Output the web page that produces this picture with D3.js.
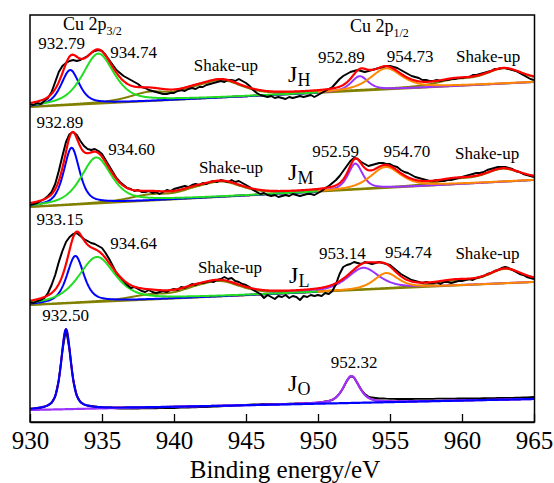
<!DOCTYPE html>
<html><head><meta charset="utf-8">
<script src="https://cdn.jsdelivr.net/npm/d3@7"></script>
<style>
body{margin:0;background:#fff}
svg{display:block}
text{font-family:"Liberation Serif","Times New Roman",Times,serif;fill:#000}
</style>
</head><body>
<svg id="c" width="554" height="483"></svg>
<script>
// ---------- DATA ----------
const xTicks = [930, 935, 940, 945, 950, 955, 960, 965];
const xTitle = "Binding energy/eV";
const eStart = 930, eStep = 0.25;   // experimental points every 0.25 eV from 930 eV

// experimental intensities (a.u., stacked as plotted), one row per eV
const blackH = [
 318,317,319,318, 321,324,330,340, 350,356,359,361, 362,361,362,364, 366,369,371,372,
 371,367,362,357, 352,349,346,344, 342,340,338,335, 334,332,331,330, 329,328,328,329,
 329,331,332,331, 333,334,333,335, 335,337,338,339, 340,341,340,342, 342,341,343,341,
 339,336,332,329, 327,326,325,326, 324,325,324,323, 325,324,325,326, 325,326,327,325,
 327,329,331,333, 335,339,343,346, 348,350,351,352, 351,350,351,352, 353,354,355,356,
 356,355,354,352, 350,348,346,345, 344,342,342,341, 341,342,341,342, 342,343,343,344,
 344,345,345,347, 347,348,349,350, 351,353,353,354, 354,353,352,351, 349,347,345,343,
 342];
const blackM = [
 217,218,219,221, 223,226,230,238, 251,266,280,288, 290,287,281,276, 273,272,273,271,
 268,262,256,250, 244,240,237,234, 233,231,232,230, 230,231,229,230, 228,230,232,231,
 233,234,235,236, 235,237,238,237, 239,238,240,241, 240,242,241,240, 242,240,241,239,
 237,235,232,230, 228,229,227,226, 227,225,226,227, 226,228,227,226, 227,228,228,227,
 229,231,234,236, 239,242,246,251, 256,261,264,263, 260,258,256,257, 258,259,259,258,
 258,256,255,252, 250,249,247,245, 244,243,242,241, 241,242,241,241, 242,242,243,244,
 245,246,247,248, 249,249,250,252, 253,254,255,255, 255,254,253,251, 250,248,247,246,
 245];
const blackL = [
 120,119,121,122, 124,129,137,147, 160,171,180,185, 188,189,186,183, 181,179,178,176,
 174,169,163,156, 149,145,141,137, 134,135,133,131, 130,132,130,129, 130,131,130,132,
 133,132,135,134, 136,138,137,139, 139,140,141,140, 142,143,145,143, 144,141,140,138,
 137,135,132,130, 128,124,127,125, 123,126,125,127, 124,126,125,122, 126,125,127,126,
 127,126,129,128, 131,138,148,155, 157,158,160,159, 158,160,159,158, 159,160,159,158,
 157,154,151,148, 146,144,142,141, 140,139,140,139, 139,140,138,140, 140,139,140,141,
 141,142,143,142, 144,145,146,148, 149,151,152,154, 155,154,152,150, 148,147,145,144,
 143];
const blackO = [
 12.5,12.8,13.5,14, 15,16.5,19,25.5, 42,71,92.5,71.5, 42,26.5,20,17.5, 16.5,16,15.5,15,
 14.5,14.3,14,13.8, 13.6,13.5,13.5,13.5, 13.5,13.5,13.5,13.6, 13.6,13.6,13.7,13.7, 13.8,13.8,13.9,13.9,
 14,14.2,14.3,14.5, 14.5,14.6,14.7,14.8, 14.8,15,15.2,15.4, 15.5,15.6,15.8,15.9, 16,16.3,16.6,16.8,
 17,17.3,17.5,17.7, 17.8,18,18.2,18.1, 18,18,18.1,18.2, 18.4,18.4,18.5,18.5, 18.6,18.8,19,19.1,
 19.3,19.8,20.5,21.2, 22,24.5,28.5,34, 41,45.5,44.5,38.5, 32.5,28,25.5,24.5, 24,23.5,23.5,23.3,
 23.2,23.1,23,23, 23,23,23,23.1, 23.1,23.1,23.2,23.2, 23.2,23.3,23.3,23.3, 23.4,23.4,23.4,23.5,
 23.5,23.5,23.6,23.6, 23.7,23.7,23.8,23.8, 23.9,23.9,24,24, 24.1,24.1,24.2,24.3, 24.4,24.5,24.6,24.8,
 25];

// linear backgrounds [value at 930 eV, value at 965 eV]
const bgH = [315, 340];
const bgM = [215, 242];
const bgL = [117, 140];
const bgO = [12, 23];

// fitted components: type, centre (eV), height above background, FWHM (eV)
const typesFull = ["p32a", "p32b", "sat", "sat", "sat", "p12a", "p12b", "sat", "sat"];
const centersH = [932.79, 934.74, 938.3, 941.3, 943.3, 952.89, 954.73, 959.5, 962.9];
const heightsH = [35, 50, 8, 4, 16, 14.5, 21, 5, 14.5];
const fwhmH    = [1.5, 2.6, 3.2, 2.5, 3.5, 1.4, 2.6, 3.0, 3.2];

const centersM = [932.89, 934.60, 938.3, 941.3, 943.3, 952.59, 954.70, 959.5, 962.85];
const heightsM = [57, 46, 5, 4, 14, 26, 21, 4, 12.5];
const fwhmM    = [1.3, 2.5, 3.2, 2.5, 3.5, 1.2, 2.5, 3.0, 3.0];

const centersL = [933.15, 934.64, 938.3, 941.3, 943.2, 953.14, 954.74, 959.5, 963.0];
const heightsL = [47, 45, 4, 4, 14, 22, 15.7, 4, 14];
const fwhmL    = [1.4, 3.0, 3.2, 2.5, 3.5, 2.6, 2.0, 3.0, 2.8];

const typesO   = ["p32a", "p12a"];
const centersO = [932.50, 952.32];
const heightsO = [80, 27];
const fwhmO    = [0.8, 1.3];

// sample names
const namesMain = ["J", "J", "J", "J"];
const namesSub  = ["H", "M", "L", "O"];

// annotations: text, energy (eV), intensity
const labelsH = [["932.79",932.19,373],["934.74",937.19,364],["Shake-up",943.61,351],
                 ["952.89",951.63,359],["954.73",956.39,360],["Shake-up",961.81,360]];
const labelsM = [["932.89",932.08,294],["934.60",937.05,267],["Shake-up",943.96,249],
                 ["952.59",951.22,265],["954.70",956.18,265],["Shake-up",961.74,263]];
const labelsL = [["933.15",932.08,197],["934.64",937.19,173],["Shake-up",943.89,149],
                 ["953.14",951.70,163],["954.74",956.28,164],["Shake-up",961.77,163]];
const labelsO = [["932.50",932.47,101],["952.32",952.50,54]];
const nameAnchors = [[947.92,340],[947.92,242],[947.99,139],[947.92,31]];
const coreLabels = [["Cu 2p","3/2",932.29,392],["Cu 2p","1/2",952.22,390]];

// ---------- STYLE ----------
const typeColor = {p32a:"#0000ff", p32b:"#22dd22", p12a:"#9933ff", p12b:"#ff8800", sat:"#808000"};
const bgColor = "#8a8000";
const FONT = '"Liberation Serif","Times New Roman",Times,serif';

// ---------- CHART ----------
const svg = d3.select("#c");
const x = d3.scaleLinear().domain([930, 965]).range([30, 534]);
const y = d3.scaleLinear().domain([0, 407]).range([422, 15]);

svg.append("defs").append("clipPath").attr("id","clip")
  .append("rect").attr("x",30).attr("y",15).attr("width",504).attr("height",407);
const plot = svg.append("g").attr("clip-path","url(#clip)");

function pv(e, c, h, w, eta){
  const t = (e - c) / w;
  return h * (eta / (1 + 4*t*t) + (1 - eta) * Math.exp(-4*Math.LN2*t*t));
}
const grid = d3.range(930, 965.0001, 0.05);
const line = d3.line().x(d => x(d[0])).y(d => y(d[1]));
const stroke = (p, col, w) => p.attr("fill","none").attr("stroke",col).attr("stroke-width",w)
  .attr("stroke-linejoin","round");

const spectra = [
  {black:blackH, bg:bgH, types:typesFull, c:centersH, h:heightsH, w:fwhmH, eta:0.6, oxide:false},
  {black:blackM, bg:bgM, types:typesFull, c:centersM, h:heightsM, w:fwhmM, eta:0.6, oxide:false},
  {black:blackL, bg:bgL, types:typesFull, c:centersL, h:heightsL, w:fwhmL, eta:0.6, oxide:false},
  {black:blackO, bg:bgO, types:typesO,   c:centersO, h:heightsO, w:fwhmO, eta:0.6, oxide:true}
];

spectra.forEach(s => {
  const bgAt = e => s.bg[0] + (s.bg[1] - s.bg[0]) * (e - 930) / 35;
  const idx = d3.range(s.c.length);
  const comp = (i, range) => grid.filter(e => e >= range[0] && e <= range[1])
      .map(e => [e, bgAt(e) + pv(e, s.c[i], s.h[i], s.w[i], s.eta)]);
  const fit = grid.map(e => [e, bgAt(e) + d3.sum(idx, i => pv(e, s.c[i], s.h[i], s.w[i], s.eta))]);
  const exp = s.black.map((v, i) => [eStart + i*eStep, v]);

  if (!s.oxide) {
    stroke(plot.append("path").attr("d", line([[930, s.bg[0]],[965, s.bg[1]]])), bgColor, 2);
    // shake-up envelope
    const satIdx = idx.filter(i => s.types[i] === "sat");
    const sat = grid.map(e => [e, bgAt(e) + d3.sum(satIdx, i => pv(e, s.c[i], s.h[i], s.w[i], s.eta))]);
    stroke(plot.append("path").attr("d", line(sat)), typeColor.sat, 2);
    ["p12a","p12b"].forEach(t => idx.filter(i => s.types[i] === t).forEach(i =>
      stroke(plot.append("path").attr("d", line(comp(i, [944, 965]))), typeColor[t], 2)));
    ["p32a","p32b"].forEach(t => idx.filter(i => s.types[i] === t).forEach(i =>
      stroke(plot.append("path").attr("d", line(comp(i, [930, 950]))), typeColor[t], 2)));
    stroke(plot.append("path").attr("d", line(exp)), "#000", 2);
    stroke(plot.append("path").attr("d", line(fit)), "#ff0000", 2.2);
  } else {
    stroke(plot.append("path").attr("d", line(exp)), "#000", 1.8);
    stroke(plot.append("path").attr("d", line(fit)), "#ff0000", 1.8);
    ["p12a","p32a"].forEach(t => idx.filter(i => s.types[i] === t).forEach(i =>
      stroke(plot.append("path").attr("d", line(comp(i, [930, 965]))), typeColor[t], 2.2)));
  }
});

// frame
svg.append("rect").attr("x",30).attr("y",15).attr("width",504.5).attr("height",407)
  .attr("fill","none").attr("stroke","#000").attr("stroke-width",1.5);

// bottom axis with inward ticks
const ax = svg.append("g").attr("transform","translate(0,422)")
  .call(d3.axisBottom(x).tickValues(xTicks).tickSize(-8).tickSizeOuter(0).tickPadding(9).tickFormat(d3.format("d")));
ax.attr("font-family", FONT);
ax.select(".domain").attr("stroke","#000").attr("stroke-width",1.5);
ax.selectAll(".tick line").attr("stroke","#000").attr("stroke-width",1.3);
ax.selectAll(".tick text").attr("font-size",25).style("font-family",FONT).attr("fill","#000");

svg.append("text").attr("x",285).attr("y",478).attr("text-anchor","middle")
  .attr("font-size",25).style("font-family",FONT).text(xTitle);

// peak annotations
[labelsH, labelsM, labelsL, labelsO].forEach(arr => arr.forEach(d => {
  svg.append("text").attr("x", x(d[1])).attr("y", y(d[2])).attr("text-anchor","middle")
    .attr("font-size",17).style("font-family",FONT).text(d[0]);
}));

// sample names
nameAnchors.forEach((a, i) => {
  const t = svg.append("text").attr("x", x(a[0])).attr("y", y(a[1])).attr("font-size",24).style("font-family",FONT);
  t.append("tspan").text(namesMain[i]);
  t.append("tspan").attr("font-size",18).attr("dy",4).text(namesSub[i]);
});

// core level labels
coreLabels.forEach(d => {
  const t = svg.append("text").attr("x", x(d[2])).attr("y", y(d[3])).attr("font-size",18).style("font-family",FONT);
  t.append("tspan").text(d[0]);
  t.append("tspan").attr("font-size",12).attr("dy",5).text(d[1]);
});
</script>
</body></html>
